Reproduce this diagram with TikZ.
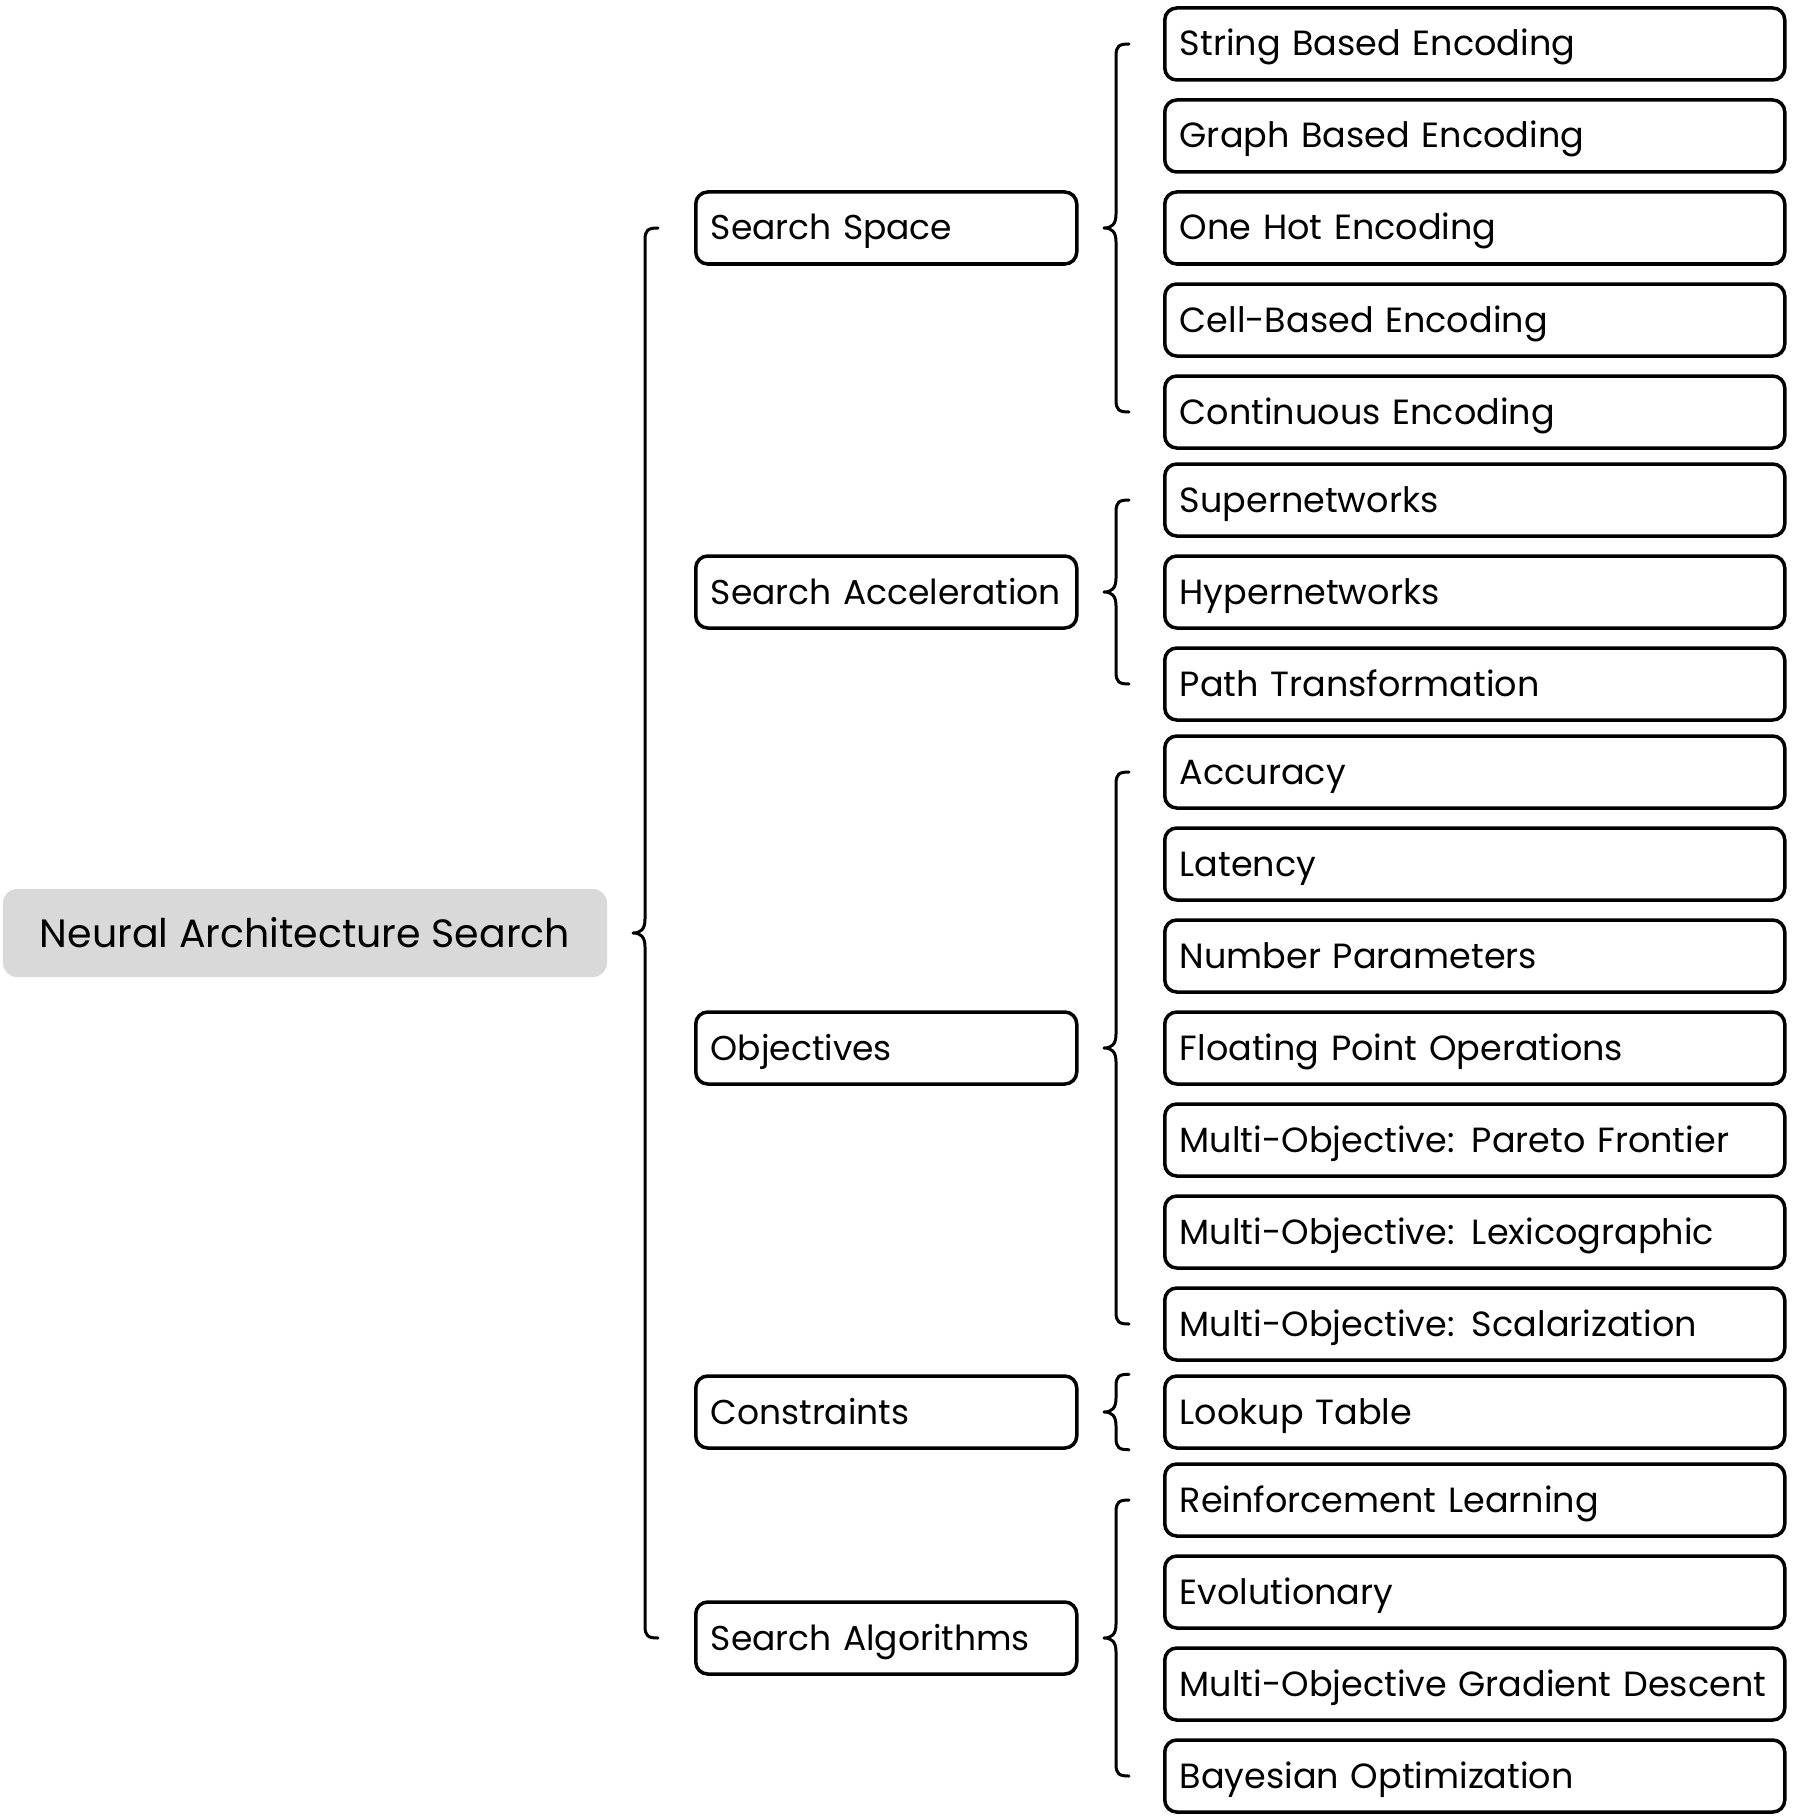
\documentclass[tikz,border=0pt]{standalone}
\usepackage{fontspec}
\setmainfont{Poppins}
\usetikzlibrary{calc}
\definecolor{rootgray}{HTML}{D9D9D9}
\newcommand{\mybrace}[4]{%
\draw[bracestyle] ($(#1 |- #2)+(13,0)$) .. controls +(-10,0) and +(0,-10) .. ($(#1 |- #2)+(0,12)$)
 -- ($(#1 |- #3)+(0,-14)$) .. controls +(0,10) and +(8,0) .. ($(#1 |- #3)+(-12,0)$)
 .. controls +(8,0) and +(0,-10) .. ($(#1 |- #3)+(0,14)$)
 -- ($(#1 |- #4)+(0,-12)$) .. controls +(0,10) and +(-10,0) .. ($(#1 |- #4)+(13,0)$);}
\begin{document}
\begin{tikzpicture}[x=1pt,y=-1pt,
 leaf/.style={draw, line width=3.5pt, rounded corners=12pt, minimum height=72pt,
   text width=590pt, inner xsep=15pt, inner ysep=0pt, align=left, anchor=west,
   font=\fontsize{35}{42}\selectfont, text height=30pt, text depth=6pt,
   execute at begin node=\hbox\bgroup, execute at end node=\egroup},
 mid/.style={leaf, text width=351pt, font=\fontsize{34.5}{42}\selectfont},
 rootbox/.style={fill=rootgray, rounded corners=14pt, minimum width=604pt, minimum height=88pt,
   inner sep=0pt, font=\fontsize{39.5}{46}\selectfont, text height=34pt, text depth=6pt},
 bracestyle/.style={line width=3pt, line join=round, line cap=round}]
\useasboundingbox (0,0) rectangle (1798,1819);
% root
\node[rootbox] (root) at (305,933) {Neural Architecture Search};
% level 1
\node[mid] (ss) at (694,228) {Search Space};
\node[mid] (sa) at (694,592) {Search Acceleration};
\node[mid] (ob) at (694,1048) {Objectives};
\node[mid] (co) at (694,1412) {Constraints};
\node[mid] (al) at (694,1638) {Search Algorithms};
% level 2
\node[leaf] (s1) at (1163,44) {String Based Encoding};
\node[leaf] (s2) at (1163,136) {Graph Based Encoding};
\node[leaf] (s3) at (1163,228) {One Hot Encoding};
\node[leaf] (s4) at (1163,320) {Cell-Based Encoding};
\node[leaf] (s5) at (1163,412) {Continuous Encoding};
\node[leaf] (a1) at (1163,500) {Supernetworks};
\node[leaf] (a2) at (1163,592) {Hypernetworks};
\node[leaf] (a3) at (1163,684) {Path Transformation};
\node[leaf] (o1) at (1163,772) {Accuracy};
\node[leaf] (o2) at (1163,864) {Latency};
\node[leaf] (o3) at (1163,956) {Number Parameters};
\node[leaf] (o4) at (1163,1048) {Floating Point Operations};
\node[leaf] (o5) at (1163,1140) {Multi-Objective: Pareto Frontier};
\node[leaf] (o6) at (1163,1232) {Multi-Objective: Lexicographic};
\node[leaf] (o7) at (1163,1324) {Multi-Objective: Scalarization};
\node[leaf] (c1) at (1163,1412) {Lookup Table};
\node[leaf] (g1) at (1163,1500) {Reinforcement Learning};
\node[leaf] (g2) at (1163,1592) {Evolutionary};
\node[leaf] (g3) at (1163,1684) {Multi-Objective Gradient Descent};
\node[leaf] (g4) at (1163,1776) {Bayesian Optimization};
% brace x positions
\coordinate (bx0) at (645,0);
\coordinate (bx1) at (1116,0);
% braces
\mybrace{bx0}{ss.west}{root.east}{al.west}
\mybrace{bx1}{s1.west}{ss.east}{s5.west}
\mybrace{bx1}{a1.west}{sa.east}{a3.west}
\mybrace{bx1}{o1.west}{ob.east}{o7.west}
\mybrace{bx1}{c1.north west}{co.east}{c1.south west}
\mybrace{bx1}{g1.west}{al.east}{g4.west}
\end{tikzpicture}
\end{document}
